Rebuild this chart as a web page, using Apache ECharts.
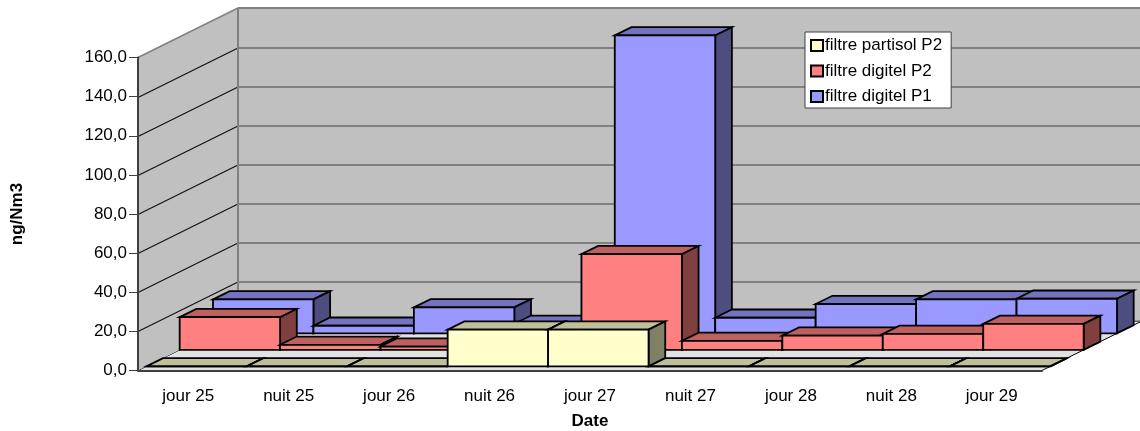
<!DOCTYPE html>
<html>
<head>
<meta charset="utf-8">
<style>
	html, body { margin: 0; padding: 0; background: #fff; }
	#chart { width: 1140px; height: 431px; }
</style>
<script src="https://cdn.jsdelivr.net/npm/echarts@6/dist/echarts.min.js"></script>
</head>
<body>
<div id="chart"></div>
<script>
const categories = ["jour 25", "nuit 25", "jour 26", "nuit 26", "jour 27", "nuit 27", "jour 28", "nuit 28", "jour 29"];
const yTicks = [0, 20, 40, 60, 80, 100, 120, 140, 160];
const partisolP2 = [0, 0, 0, 18.8, 18.8, 0, 0, 0, 0];
const digitelP2 = [16.7, 2.6, 1.7, 0, 48.9, 4.6, 7.3, 8.2, 13.3];
const digitelP1 = [17.4, 3.9, 13.3, 4.9, 152.3, 8, 15, 17.4, 17.7];

// fake 3d: how far the back wall sits from the axes, in pixels
const depthX = 100;
const depthY = -49.5;
const rows = 3;

const fontName = "Liberation Sans";
const edge = 1.8;

const poly = (points, fill, stroke, width) => ({
	type: "polygon",
	shape: { points },
	style: { fill, stroke, lineWidth: width },
});

const line = (a, b, stroke, width) => ({
	type: "line",
	shape: { x1: a[0], y1: a[1], x2: b[0], y2: b[1] },
	style: { stroke, lineWidth: width },
});

const walls = (params, api) => {
	const base = api.coord([0, 0]);
	const band = api.size([1, 0])[0];
	const x0 = base[0] - band / 2;
	const x1 = x0 + band * categories.length;
	const y0 = base[1];
	const yTop = api.coord([0, yTicks[yTicks.length - 1]])[1];
	const children = [
		poly([[x0, y0], [x1, y0], [x1 + depthX, y0 + depthY], [x0 + depthX, y0 + depthY]], "#e2e2e2", "#000", 1),
		poly([[x0, y0], [x0 + depthX, y0 + depthY], [x0 + depthX, yTop + depthY], [x0, yTop]], "#c0c0c0", "none", 0),
		poly([[x0 + depthX, y0 + depthY], [x1 + depthX, y0 + depthY], [x1 + depthX, yTop + depthY], [x0 + depthX, yTop + depthY]], "#c0c0c0", "none", 0),
	];
	yTicks.slice(1).forEach((t) => {
		const y = Math.round(api.coord([0, t])[1]) + 0.5;
		if (t < yTicks[yTicks.length - 1]) {
			children.push(line([x0, y], [x0 + depthX, y + depthY], "#111", 1.2));
			children.push(line([x0 + depthX, y + depthY], [x1 + depthX, y + depthY], "#404040", 1));
		}
	});
	children.push(line([x0, yTop], [x0 + depthX, yTop + depthY], "#808080", 1.5));
	children.push(line([x0 + depthX, yTop + depthY], [x1 + depthX, yTop + depthY], "#808080", 2));
	children.push(line([x0 + depthX, y0 + depthY], [x0 + depthX, yTop + depthY], "#808080", 2));
	children.push(line([x0 + depthX, y0 + depthY], [x1 + depthX, y0 + depthY], "#606060", 1));
	return { type: "group", children };
};

const box = (row, colors) => (params, api) => {
	const top = api.coord([api.value(0), api.value(1)]);
	const bottom = api.coord([api.value(0), 0]);
	const band = api.size([1, 0])[0];
	const shiftX = (depthX * (row + 0.25)) / rows;
	const shiftY = (depthY * (row + 0.25)) / rows;
	const dx = depthX / rows / 2;
	const dy = depthY / rows / 2;
	const l = top[0] - band / 2 + shiftX;
	const r = l + band;
	const t = top[1] + shiftY;
	const b = bottom[1] + shiftY;
	return {
		type: "group",
		children: [
			poly([[l, t], [r, t], [r + dx, t + dy], [l + dx, t + dy]], colors[1], "#000", edge),
			poly([[r, t], [r + dx, t + dy], [r + dx, b + dy], [r, b]], colors[2], "#000", edge),
			poly([[l, t], [r, t], [r, b], [l, b]], colors[0], "#000", edge),
		],
	};
};

const barSeries = (name, values, row, colors) => ({
	name,
	type: "custom",
	z: 5 - row,
	silent: true,
	renderItem: box(row, colors),
	encode: { x: 0, y: 1 },
	itemStyle: { color: colors[0], borderColor: "#000", borderWidth: 1.5 },
	data: values.map((v, i) => [i, v]),
});

const chart = echarts.init(document.getElementById("chart"));
chart.setOption({
	animation: false,
	backgroundColor: "#fff",
	textStyle: { fontFamily: fontName },
	grid: { left: 138, right: 98, top: 57.5, bottom: 60.5, outerBoundsMode: "none" },
	legend: {
		left: 805,
		top: 32,
		orient: "vertical",
		icon: "rect",
		z: 20,
		backgroundColor: "#fff",
		borderColor: "#404040",
		borderWidth: 1,
		padding: [5, 9, 3, 5],
		itemWidth: 12,
		itemHeight: 11,
		itemGap: 8.5,
		textStyle: { fontFamily: fontName, fontSize: 17, color: "#000", padding: [0, 0, 0, -3] },
		data: ["filtre partisol P2", "filtre digitel P2", "filtre digitel P1"],
	},
	xAxis: {
		type: "category",
		data: categories,
		z: 3,
		name: "Date",
		nameLocation: "middle",
		nameGap: 42,
		nameTextStyle: { fontFamily: fontName, fontSize: 17, fontWeight: "bold", color: "#000" },
		axisLine: { lineStyle: { color: "#404040", width: 2 } },
		axisTick: { length: 9, lineStyle: { color: "#404040", width: 1 } },
		axisLabel: { fontFamily: fontName, fontSize: 17, color: "#000", margin: 17 },
	},
	yAxis: {
		type: "value",
		min: 0,
		max: 160,
		interval: 20,
		z: 3,
		name: "ng/Nm3",
		nameLocation: "middle",
		nameGap: 112,
		nameTextStyle: { fontFamily: fontName, fontSize: 17, fontWeight: "bold", color: "#000" },
		axisLine: { show: true, lineStyle: { color: "#404040", width: 2 } },
		axisTick: { show: true, length: 9, lineStyle: { color: "#404040", width: 1 } },
		axisLabel: {
			fontFamily: fontName,
			fontSize: 17,
			color: "#000",
			margin: 11,
			formatter: (v) => v.toFixed(1).replace(".", ","),
		},
		splitLine: { show: false },
	},
	series: [
		{
			type: "custom",
			z: 1,
			silent: true,
			renderItem: walls,
			encode: { x: 0, y: 1 },
			data: [[0, 0]],
		},
		barSeries("filtre digitel P1", digitelP1, 2, ["#9999ff", "#7373bf", "#4d4d80"]),
		barSeries("filtre digitel P2", digitelP2, 1, ["#ff8080", "#bf6060", "#804040"]),
		barSeries("filtre partisol P2", partisolP2, 0, ["#ffffcc", "#bfbf99", "#808066"]),
	],
});
</script>
</body>
</html>
